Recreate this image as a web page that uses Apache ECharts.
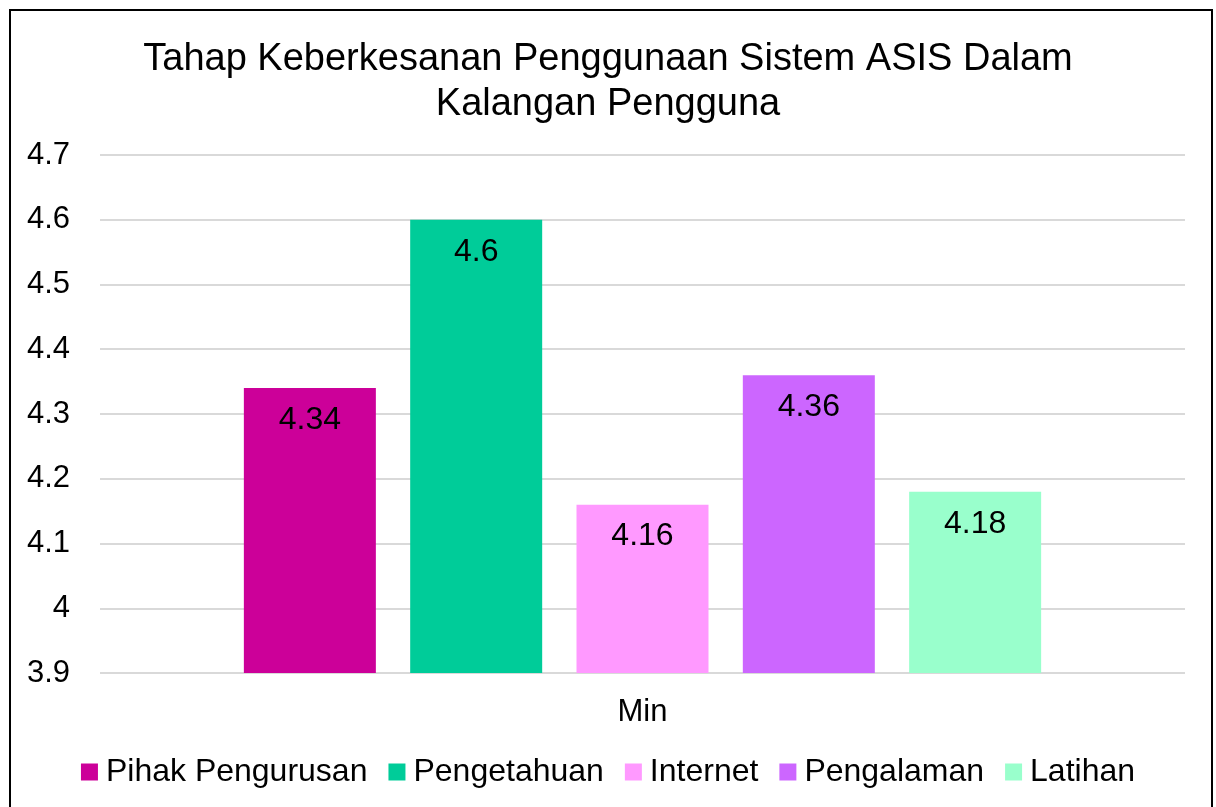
<!DOCTYPE html>
<html>
<head>
<meta charset="utf-8">
<script src="https://cdn.jsdelivr.net/npm/echarts@6/dist/echarts.min.js"></script>
<style>
  html, body { margin: 0; padding: 0; background: #fff; }
  #chart { width: 1216px; height: 807px; }
</style>
</head>
<body>
<div id="chart"></div>
<script>
const categories = ['Min'];
const seriesNames = ['Pihak Pengurusan', 'Pengetahuan', 'Internet', 'Pengalaman', 'Latihan'];
const seriesValues = [4.34, 4.6, 4.16, 4.36, 4.18];
const seriesColors = ['#CC0099', '#00CC99', '#FF99FF', '#CC66FF', '#99FFCC'];

const font = 'Liberation Sans, Arial, sans-serif';

const chart = echarts.init(document.getElementById('chart'));

const series = seriesNames.map(function (name, i) {
  return {
    name: name,
    type: 'bar',
    data: [seriesValues[i]],
    barWidth: 132,
    barGap: '26%',
    itemStyle: {color: seriesColors[i]},
    label: {
      show: true,
      position: 'insideTop',
      distance: 16,
      color: '#000',
      fontSize: 32,
      fontFamily: font
    }
  };
});

chart.setOption({
  backgroundColor: '#fff',
  animation: false,
  textStyle: {fontFamily: font},
  title: {
    text: 'Tahap Keberkesanan Penggunaan Sistem ASIS Dalam\nKalangan Pengguna',
    left: 'center',
    top: 32,
    textStyle: {
      fontSize: 38,
      fontWeight: 'normal',
      color: '#000',
      lineHeight: 45,
      fontFamily: font
    }
  },
  graphic: [{
    type: 'rect',
    shape: {x: 10, y: 10, width: 1202, height: 800},
    style: {fill: 'none', stroke: '#000', lineWidth: 2},
    silent: true
  }],
  legend: {
    data: seriesNames,
    bottom: 14,
    left: 'center',
    icon: 'rect',
    itemWidth: 17,
    itemHeight: 17,
    itemGap: 21,
    textStyle: {fontSize: 32, color: '#000', fontFamily: font, padding: [0, 0, 0, 3]}
  },
  grid: {left: 100, right: 31, top: 155, bottom: 134},
  xAxis: {
    type: 'category',
    data: categories,
    axisLine: {show: false},
    axisTick: {show: false},
    axisLabel: {color: '#000', fontSize: 31, margin: 24, fontFamily: font}
  },
  yAxis: {
    type: 'value',
    min: 3.9,
    max: 4.7,
    interval: 0.1,
    axisLine: {show: false},
    axisTick: {show: false},
    axisLabel: {
      color: '#000',
      fontSize: 31,
      margin: 30,
      fontFamily: font,
      formatter: function (v) { return String(+v.toFixed(1)); }
    },
    splitLine: {lineStyle: {color: '#d9d9d9', width: 2}}
  },
  series: series
});
</script>
</body>
</html>
